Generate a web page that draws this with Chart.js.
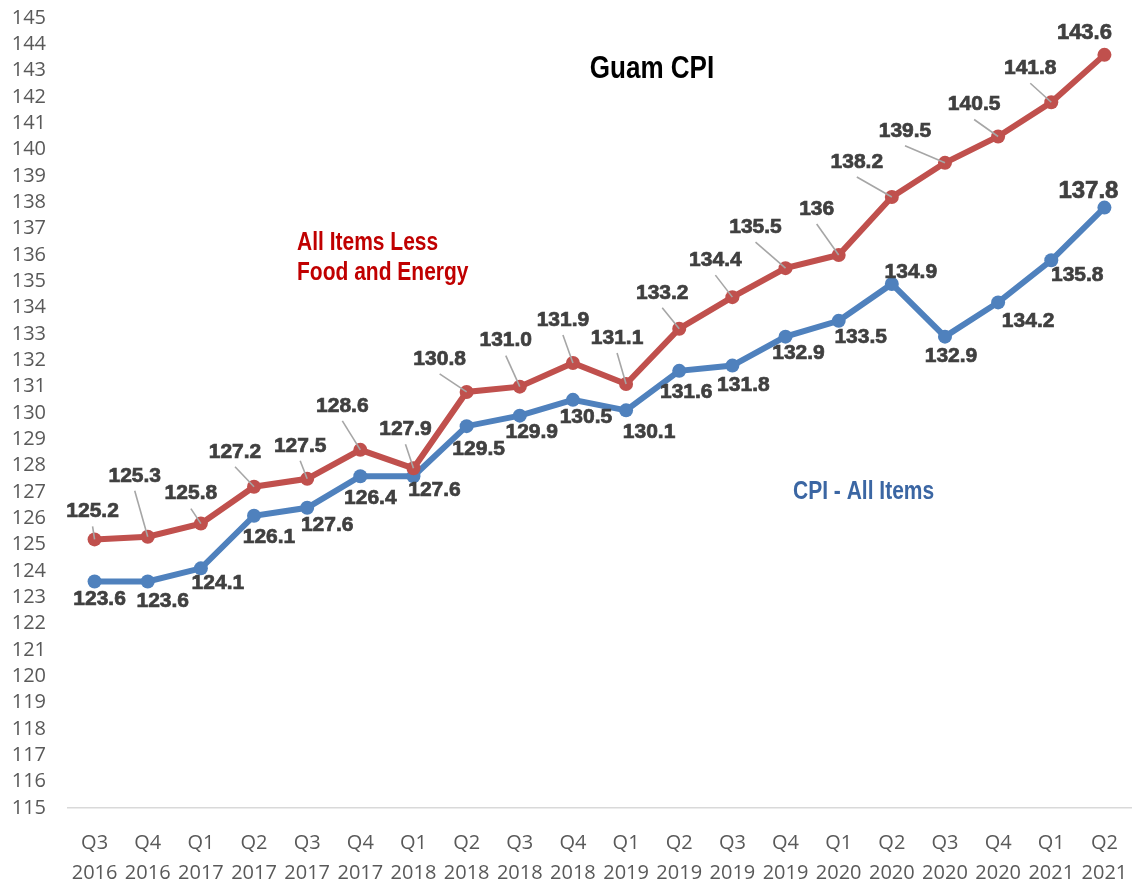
<!DOCTYPE html>
<html lang="en">
<head>
    <meta charset="UTF-8">
    <title>Guam CPI</title>
    <script src="https://cdn.jsdelivr.net/npm/chart.js"></script>
    <style>
        html, body { margin: 0; padding: 0; background: #fff; }
        .chart-container { width: 1138px; height: 881px; }
    </style>
</head>
<body>
    <div class="chart-container">
        <canvas id="cpiChart"></canvas>
    </div>
    <script>
        // Quarters shown on the x axis (two lines each)
        const quarters = [
            ["Q3", "2016"], ["Q4", "2016"], ["Q1", "2017"], ["Q2", "2017"], ["Q3", "2017"],
            ["Q4", "2017"], ["Q1", "2018"], ["Q2", "2018"], ["Q3", "2018"], ["Q4", "2018"],
            ["Q1", "2019"], ["Q2", "2019"], ["Q3", "2019"], ["Q4", "2019"], ["Q1", "2020"],
            ["Q2", "2020"], ["Q3", "2020"], ["Q4", "2020"], ["Q1", "2021"], ["Q2", "2021"]
        ];

        // CPI - All Items
        const cpiAll = [123.6, 123.6, 124.1, 126.1, 126.4, 127.6, 127.6, 129.5, 129.9, 130.5,
                        130.1, 131.6, 131.8, 132.9, 133.5, 134.9, 132.9, 134.2, 135.8, 137.8];
        // All Items Less Food and Energy
        const cpiCore = [125.2, 125.3, 125.8, 127.2, 127.5, 128.6, 127.9, 130.8, 131.0, 131.9,
                         131.1, 133.2, 134.4, 135.5, 136, 138.2, 139.5, 140.5, 141.8, 143.6];

        // data label texts as printed on the original chart
        const cpiAllLabels = ["123.6", "123.6", "124.1", "126.1", "127.6", "126.4", "127.6", "129.5", "129.9", "130.5",
                              "130.1", "131.6", "131.8", "132.9", "133.5", "134.9", "132.9", "134.2", "135.8", "137.8"];
        const cpiCoreLabels = ["125.2", "125.3", "125.8", "127.2", "127.5", "128.6", "127.9", "130.8", "131.0", "131.9",
                               "131.1", "133.2", "134.4", "135.5", "136", "138.2", "139.5", "140.5", "141.8", "143.6"];

        // y axis range
        const yMin = 115;
        const yMax = 145;

        // label offsets (px) from each point
        const allOffsets = [[5, 18], [15, 20], [17, 15], [15, 22], [20, 17], [10, 22], [21, 14], [12, 23], [12, 17], [13, 17],
                            [23, 22], [7, 21], [11, 20], [13, 17], [22, 16], [19, -12], [6, 20], [30, 19], [26, 15], [-16, -16]];
        const coreOffsets = [[-2, -28], [-13, -61], [-10, -30], [-19, -35], [-7, -33], [-18, -44], [-8, -39], [-27, -33], [-14, -46], [-10, -43],
                             [-9, -46], [-17, -36], [-17, -37], [-30, -41], [-22, -46], [-35, -35], [-40, -32], [-24, -32], [-21, -34], [-20, -22]];

        // Plugin: data labels with leader lines
        const dataLabels = {
            id: 'dataLabels',
            afterDatasetsDraw(chart) {
                const ctx = chart.ctx;
                chart.data.datasets.forEach((ds, di) => {
                    const meta = chart.getDatasetMeta(di);
                    meta.data.forEach((pt, i) => {
                        const off = ds.labelOffsets[i];
                        const lx = pt.x + off[0];
                        const ly = pt.y + off[1];
                        const last = i === meta.data.length - 1;
                        ctx.save();
                        if (ds.leaders && !last) {
                            const sy = ly + 15;
                            ctx.strokeStyle = '#a6a6a6';
                            ctx.lineWidth = 1.6;
                            ctx.beginPath();
                            ctx.moveTo(lx, sy);
                            ctx.lineTo(pt.x, pt.y);
                            ctx.stroke();
                        }
                        ctx.font = 'bold ' + (last ? ds.lastSize : 21) + 'px "Liberation Sans"';
                        ctx.fillStyle = '#404040';
                        ctx.strokeStyle = '#404040';
                        ctx.lineWidth = 0.7;
                        ctx.textAlign = 'center';
                        ctx.textBaseline = 'middle';
                        ctx.fillText(ds.labelTexts[i], lx, ly);
                        ctx.strokeText(ds.labelTexts[i], lx, ly);
                        ctx.restore();
                    });
                });
            }
        };

        // Plugin: title and series names inside the plot
        function narrowText(ctx, text, x, y, size, color, align) {
            ctx.save();
            ctx.font = 'bold ' + size + 'px "Liberation Sans"';
            ctx.fillStyle = color;
            ctx.textAlign = align;
            ctx.textBaseline = 'middle';
            ctx.translate(x, y);
            ctx.scale(0.84, 1);
            ctx.fillText(text, 0, 0);
            ctx.restore();
        }
        const notes = {
            id: 'notes',
            afterDraw(chart) {
                const ctx = chart.ctx;
                narrowText(ctx, 'Guam CPI', 652, 69, 31, '#000000', 'center');
                narrowText(ctx, 'All Items Less', 297, 243, 25, '#c00000', 'left');
                narrowText(ctx, 'Food and Energy', 297, 273, 25, '#c00000', 'left');
                narrowText(ctx, 'CPI - All Items', 793, 492, 25, '#3b66a3', 'left');
            }
        };

        const ctx = document.getElementById('cpiChart').getContext('2d');
        new Chart(ctx, {
            type: 'line',
            data: {
                labels: quarters,
                datasets: [{
                    label: 'All Items Less Food and Energy',
                    data: cpiCore,
                    labelTexts: cpiCoreLabels,
                    labelOffsets: coreOffsets,
                    leaders: true,
                    lastSize: 22,
                    borderColor: '#c0504d',
                    backgroundColor: '#c0504d',
                    borderWidth: 6,
                    pointRadius: 7,
                    pointBorderWidth: 0,
                    tension: 0
                }, {
                    label: 'CPI - All Items',
                    data: cpiAll,
                    labelTexts: cpiAllLabels,
                    labelOffsets: allOffsets,
                    leaders: false,
                    lastSize: 24,
                    borderColor: '#4f81bd',
                    backgroundColor: '#4f81bd',
                    borderWidth: 6,
                    pointRadius: 7,
                    pointBorderWidth: 0,
                    tension: 0
                }]
            },
            options: {
                responsive: true,
                maintainAspectRatio: false,
                animation: false,
                layout: { padding: { top: 18, right: 4, left: 0, bottom: 0 } },
                plugins: {
                    legend: { display: false },
                    tooltip: { enabled: false }
                },
                scales: {
                    x: {
                        offset: true,
                        grid: { display: false },
                        border: { display: true, color: '#d9d9d9', width: 1.5 },
                        ticks: {
                            color: '#595959',
                            padding: 12,
                            maxRotation: 0,
                            autoSkip: false,
                            font: { family: '"Open Sans"', size: 20, lineHeight: 1.5 }
                        },
                        afterFit(scale) {
                            scale.height = 73;
                            scale.paddingLeft = 0;
                            scale.paddingRight = 0;
                        }
                    },
                    y: {
                        min: yMin,
                        max: yMax,
                        grid: { display: false, drawTicks: false },
                        border: { display: false },
                        ticks: {
                            stepSize: 1,
                            autoSkip: false,
                            color: '#595959',
                            padding: 22,
                            font: { family: '"Open Sans"', size: 20 }
                        },
                        afterFit(scale) {
                            scale.width = 68;
                            scale.paddingTop = 0;
                            scale.paddingBottom = 0;
                        }
                    }
                }
            },
            plugins: [dataLabels, notes]
        });
    </script>
</body>
</html>
